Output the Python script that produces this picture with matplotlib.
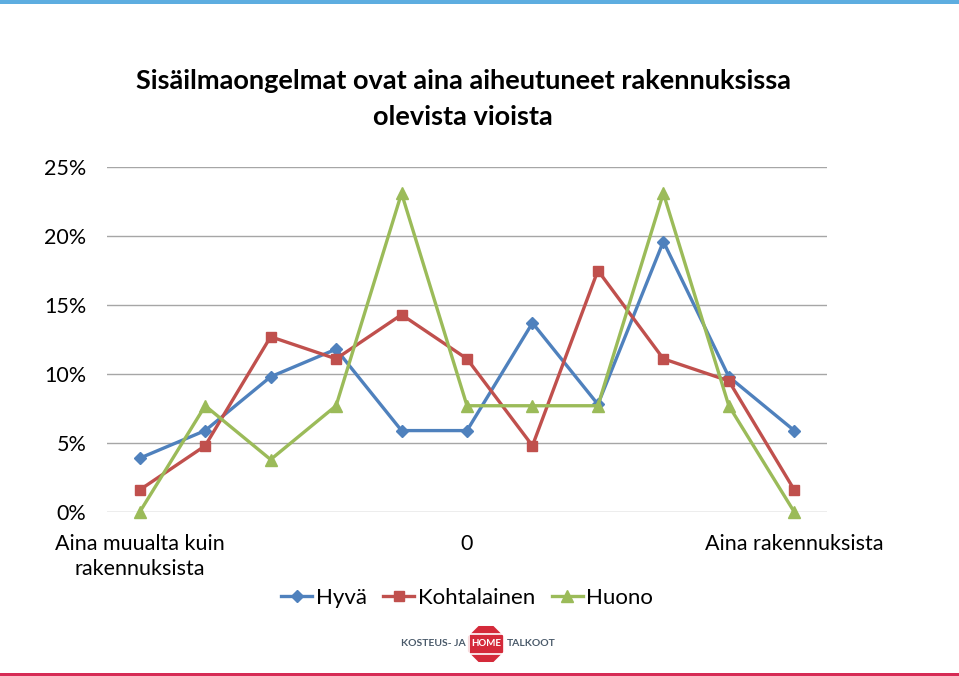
import matplotlib.pyplot as plt
import matplotlib.patches as mpatches
import numpy as np

# ---------- Data ----------
positions = list(range(11))
hyva = [3.9, 5.9, 9.8, 11.8, 5.9, 5.9, 13.7, 7.8, 19.6, 9.8, 5.9]
kohtalainen = [1.6, 4.8, 12.7, 11.1, 14.3, 11.1, 4.8, 17.5, 11.1, 9.5, 1.6]
huono = [0.0, 7.7, 3.8, 7.7, 23.1, 7.7, 7.7, 7.7, 23.1, 7.7, 0.0]
tick_pos = [0, 5, 10]
tick_labels = ["Aina muualta kuin\nrakennuksista", "0", "Aina rakennuksista"]
y_ticks = [0, 5, 10, 15, 20, 25]

plt.rcParams["font.family"] = ["Lato", "DejaVu Sans"]

W, H = 959, 676
fig = plt.figure(figsize=(W / 100, H / 100), dpi=100)

# ---------- Axes ----------
ax = fig.add_axes([107 / W, 1 - 512 / H, 720 / W, 345 / H])
ax.plot(positions, hyva, color="#4F81BD", lw=2.4, marker="D", ms=6, label="Hyvä")
ax.plot(positions, kohtalainen, color="#C0504D", lw=2.4, marker="s", ms=6.5, label="Kohtalainen")
ax.plot(positions, huono, color="#9BBB59", lw=2.4, marker="^", ms=8, label="Huono", clip_on=False)

ax.set_xlim(-0.5, 10.5)
ax.set_ylim(0, 25)
ax.set_yticks(y_ticks)
ax.set_yticklabels([f"{v}%" for v in y_ticks], fontsize=15.5)
ax.set_xticks(tick_pos)
ax.set_xticklabels(tick_labels, fontsize=15.5, linespacing=1.3)
ax.tick_params(axis="x", length=0, pad=16)
ax.tick_params(axis="y", length=0, pad=15)
ax.grid(axis="y", color="#A6A6A6", lw=1)
ax.set_axisbelow(True)
for s in ax.spines.values():
    s.set_visible(False)

# ---------- Title ----------
fig.text(463 / W, 1 - 99 / H, "Sisäilmaongelmat ovat aina aiheutuneet rakennuksissa\nolevista vioista",
         ha="center", va="center", fontsize=19.5, fontweight="bold", linespacing=1.6)

# ---------- Legend ----------
fig.legend(loc="center", bbox_to_anchor=(467 / W, 1 - 598 / H), ncol=3, frameon=False,
           fontsize=16, handlelength=1.4, handletextpad=0.15, columnspacing=0.75)

# ---------- Decorations ----------
fig.add_artist(mpatches.Rectangle((0, 1 - 4 / H), 1, 4 / H, transform=fig.transFigure,
                                  color="#5DADE0", lw=0))
fig.add_artist(mpatches.Rectangle((0, 0), 1, 3 / H, transform=fig.transFigure,
                                  color="#D62B55", lw=0))

# logo (positions in inches from the lower left corner)
cx, cy = 4.86, (H - 644) / 100
fig.text(4.655, cy, "KOSTEUS- JA", ha="right", va="center", fontsize=7.5,
         color="#4A5A6A", fontweight="bold", transform=fig.dpi_scale_trans)
fig.add_artist(mpatches.RegularPolygon((cx, cy), 8, radius=0.195,
                                       orientation=np.pi / 8, transform=fig.dpi_scale_trans,
                                       facecolor="#D42A3A", edgecolor="none"))
fig.add_artist(mpatches.Rectangle((cx - 0.175, cy - 0.1), 0.35, 0.2,
                                  transform=fig.dpi_scale_trans, facecolor="none",
                                  edgecolor="white", lw=1.2))
fig.text(cx, cy, "HOME", ha="center", va="center", fontsize=7,
         color="white", fontweight="bold", transform=fig.dpi_scale_trans)
fig.text(5.065, cy, "TALKOOT", ha="left", va="center", fontsize=7.5,
         color="#4A5A6A", fontweight="bold", transform=fig.dpi_scale_trans)

fig.savefig("out.png", dpi=100)
